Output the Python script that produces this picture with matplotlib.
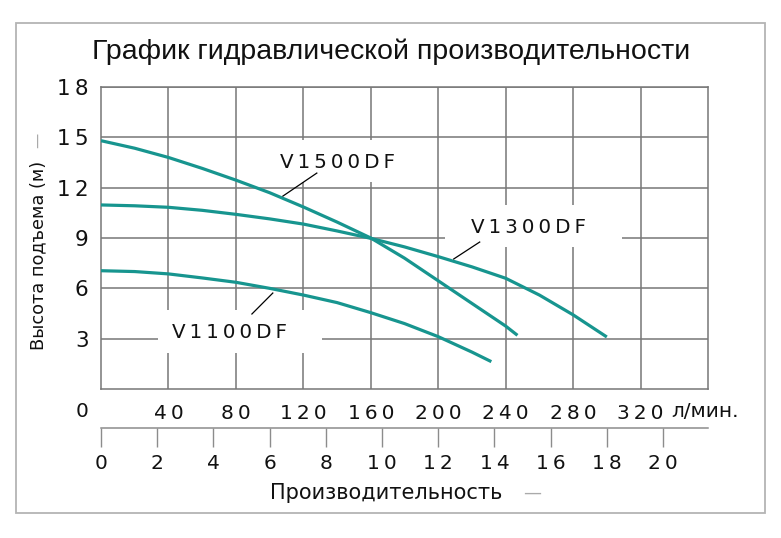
#!/usr/bin/env python3
"""Pump performance chart: head (m) vs. flow (l/min and m3/h)."""
import matplotlib
matplotlib.use("Agg")
import matplotlib.pyplot as plt
from matplotlib.patches import Rectangle

# ---- data -----------------------------------------------------------------
v1500_flow = [0, 20, 40, 60, 80, 100, 120, 140, 160, 180, 200, 220, 240, 247]
v1500_head = [14.8, 14.35, 13.8, 13.15, 12.45, 11.7, 10.85, 9.95, 9.0, 7.8, 6.45,
              5.1, 3.75, 3.2]

v1300_flow = [0, 20, 40, 60, 80, 100, 120, 140, 160, 180, 200, 220, 240, 250,
              260, 280, 300]
v1300_head = [10.97, 10.92, 10.83, 10.65, 10.41, 10.14, 9.83, 9.42, 8.98, 8.47,
              7.89, 7.28, 6.6, 6.1, 5.6, 4.42, 3.1]

v1100_flow = [0, 20, 40, 60, 80, 100, 120, 140, 160, 180, 200, 220, 231.5]
v1100_head = [7.05, 7.0, 6.86, 6.62, 6.36, 6.0, 5.6, 5.15, 4.55, 3.9, 3.12, 2.2,
              1.63]

series = [
    ("V1500DF", v1500_flow, v1500_head),
    ("V1300DF", v1300_flow, v1300_head),
    ("V1100DF", v1100_flow, v1100_head),
]

lpm_ticks = [40, 80, 120, 160, 200, 240, 280, 320]
head_ticks = [3, 6, 9, 12, 15, 18]
m3h_ticks = [0, 2, 4, 6, 8, 10, 12, 14, 16, 18, 20]

title = "График гидравлической производительности"
ylabel = "Высота подъема (м)"
xlabel = "Производительность"
flow_unit = "л/мин."

# label placement: (text, text x, text y, box x0, box x1, box y0, box y1,
#                   leader start, leader end)  -- all in data units
labels = [
    ("V1500DF", 140.4, 13.5, 106, 175, 12.34, 14.84, (128, 12.87), (107.9, 11.5)),
    ("V1300DF", 253.6, 9.65, 204, 309, 8.46, 10.97, (224.6, 8.76), (209.2, 7.75)),
    ("V1100DF", 76.4, 3.34, 33.8, 131, 2.15, 4.71, (101.9, 5.72), (89.5, 4.47)),
]

TEAL = "#17958f"
GRID = "#777777"


def spaced(s):
    # the original lettering is widely tracked
    return "\u2009".join(s)


def lpm_to_m3h(x):
    return x * 60.0 / 1000.0


def m3h_to_lpm(x):
    return x * 1000.0 / 60.0


W, H = 781, 538
fig = plt.figure(figsize=(W / 100, H / 100), dpi=100)
ax = fig.add_axes([101 / W, 1 - 389 / H, 607 / W, 302 / H])

# outer frame
fig.add_artist(Rectangle((16 / W, 1 - 513 / H), 749 / W, 490 / H,
                         transform=fig.transFigure, fill=False,
                         edgecolor="#b4b4b4", lw=1.3))

for name, q, h in series:
    ax.plot(q, h, color=TEAL, lw=2.3, solid_capstyle="butt", zorder=3)

for text, tx, ty, bx0, bx1, by0, by1, p0, p1 in labels:
    ax.add_patch(Rectangle((bx0, by0), bx1 - bx0, by1 - by0, facecolor="white",
                           edgecolor="none", zorder=1))
    ax.text(tx, ty, spaced(text), ha="center", va="center", fontsize=14.3,
            color="#111111", zorder=4)
    ax.plot([p0[0], p1[0]], [p0[1], p1[1]], color="black", lw=0.9, zorder=4)

ax.set_xlim(0, 360)
ax.set_ylim(0, 18)
ax.set_xticks(lpm_ticks, [spaced(str(t)) for t in lpm_ticks])
ax.set_yticks(head_ticks, [spaced(str(t)) for t in head_ticks])
ax.tick_params(axis="x", length=0, pad=11, labelsize=14.5, labelcolor="#111111")
ax.tick_params(axis="y", length=0, pad=9, labelsize=15.5, labelcolor="#111111")
ax.set_axisbelow(True)
ax.grid(True, color=GRID, lw=1.1)
for sp in ax.spines.values():
    sp.set_color(GRID)
    sp.set_linewidth(1.1)

# corner zero and flow unit
ax.annotate("0", xy=(0, 0), xytext=(-13.7, -16.5), textcoords="offset points",
            ha="center", va="center", fontsize=14.5, color="#111111")
ax.annotate(flow_unit, xy=(320, 0), xytext=(22.3, -16.5), textcoords="offset points",
            ha="left", va="center", fontsize=14.5, color="#111111")

# second flow scale in m3/h
ax2 = ax.secondary_xaxis(-39 / 302, functions=(lpm_to_m3h, m3h_to_lpm))
ax2.set_xticks(m3h_ticks, [spaced(str(t)) for t in m3h_ticks])
ax2.tick_params(direction="out", length=13.7, width=1, color="#8c8c8c", pad=5,
                labelsize=14.5, labelcolor="#111111")
ax2.spines["bottom"].set_color("#8c8c8c")
ax2.spines["bottom"].set_linewidth(1.1)

fig.text(391 / W, 1 - 52 / H, title, ha="center", va="center", fontsize=20.5,
         family=["Liberation Sans", "DejaVu Sans"], color="#111111")

fig.text(270 / W, 1 - 493 / H, xlabel, ha="left", va="center", fontsize=15,
         color="#111111")
fig.text(532 / W, 1 - 493 / H, "—", ha="center", va="center", fontsize=13,
         color="#aaaaaa")

fig.text(38 / W, 1 - 350 / H, ylabel, rotation=90, rotation_mode="anchor",
         ha="left", va="center", fontsize=12.8, color="#111111")
fig.text(38 / W, 1 - 140 / H, "—", rotation=90, ha="center", va="center",
         fontsize=11, color="#aaaaaa")

fig.savefig("out.png", dpi=100)
